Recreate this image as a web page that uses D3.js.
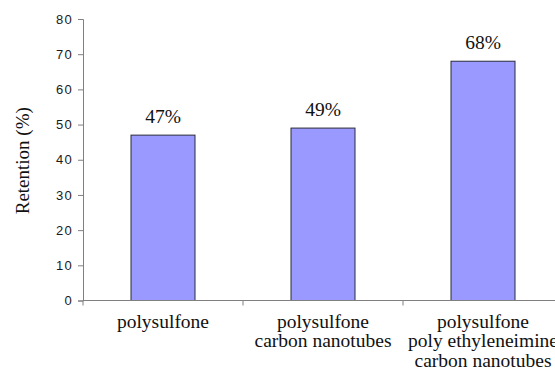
<!DOCTYPE html>
<html>
<head>
<meta charset="utf-8">
<script src="https://cdn.jsdelivr.net/npm/d3@7"></script>
<style>
  html, body { margin: 0; padding: 0; background: #fff; }
  svg { display: block; }
  .serif { font-family: "Liberation Serif", "Times New Roman", "DejaVu Serif", serif; }
  .sans { font-family: "Liberation Sans", Arial, sans-serif; }
</style>
</head>
<body>
<svg id="chart" width="555" height="374"></svg>
<script>
// Membrane retention by composition
const categories = [
  ["polysulfone"],
  ["polysulfone", "carbon nanotubes"],
  ["polysulfone", "poly ethyleneimine", "carbon nanotubes"]
];
const retention = [47, 49, 68];
const valueLabels = ["47%", "49%", "68%"];
const yTicks = [0, 10, 20, 30, 40, 50, 60, 70, 80];

const svg = d3.select("#chart");
const plotLeft = 83, plotRight = 563, plotTop = 19, plotBottom = 300.5;

const x = d3.scaleBand()
  .domain(d3.range(categories.length))
  .range([plotLeft, plotRight])
  .paddingInner(0.6)
  .paddingOuter(0.3);

const y = d3.scaleLinear().domain([0, 80]).range([plotBottom, plotTop]);

// Y axis
const yAxis = svg.append("g")
  .attr("transform", `translate(${plotLeft},0)`)
  .call(d3.axisLeft(y).tickValues(yTicks).tickSize(5).tickPadding(5));
yAxis.attr("font-family", null).attr("font-size", null);
yAxis.select(".domain").attr("stroke", "#808080");
yAxis.selectAll(".tick line").attr("stroke", "#808080");
yAxis.selectAll(".tick text")
  .attr("class", "sans")
  .style("font-size", "13px")
  .style("letter-spacing", "1.3px")
  .attr("fill", "#1a1a1a");

// Bars
svg.append("g").selectAll("rect")
  .data(retention)
  .join("rect")
  .attr("x", (d, i) => x(i))
  .attr("y", d => y(d))
  .attr("width", x.bandwidth())
  .attr("height", d => y(0) - y(d))
  .attr("fill", "#9999ff")
  .attr("stroke", "#2a2a3a")
  .attr("stroke-width", 1);

// X axis with category boundary ticks
const xg = svg.append("g").attr("transform", `translate(0,${plotBottom})`);
xg.append("line")
  .attr("x1", plotLeft).attr("x2", plotRight)
  .attr("stroke", "#808080");
const bounds = d3.range(categories.length + 1).map(i => plotLeft + i * x.step());
xg.selectAll("line.tick")
  .data(bounds)
  .join("line")
  .attr("class", "tick")
  .attr("x1", d => d).attr("x2", d => d)
  .attr("y1", 0).attr("y2", 5)
  .attr("stroke", "#808080");

// Category labels
const catG = svg.append("g")
  .attr("class", "serif")
  .style("font-size", "19.5px")
  .attr("fill", "#111")
  .attr("text-anchor", "middle");
categories.forEach((lines, i) => {
  const t = catG.append("text")
    .attr("x", x(i) + x.bandwidth() / 2)
    .attr("y", plotBottom + 27);
  lines.forEach((ln, j) => {
    t.append("tspan")
      .attr("x", x(i) + x.bandwidth() / 2)
      .attr("dy", j === 0 ? 0 : 19.5)
      .text(ln);
  });
});

// Value labels above bars
svg.append("g")
  .attr("class", "serif")
  .style("font-size", "19.5px")
  .attr("fill", "#111")
  .attr("text-anchor", "middle")
  .selectAll("text")
  .data(retention)
  .join("text")
  .attr("x", (d, i) => x(i) + x.bandwidth() / 2)
  .attr("y", d => y(d) - 12.5)
  .text((d, i) => valueLabels[i]);

// Y axis title
svg.append("text")
  .attr("class", "serif")
  .attr("transform", `translate(29,${(plotTop + plotBottom) / 2 + 1}) rotate(-90)`)
  .attr("text-anchor", "middle")
  .style("font-size", "19px")
  .attr("fill", "#111")
  .text("Retention (%)");
</script>
</body>
</html>
